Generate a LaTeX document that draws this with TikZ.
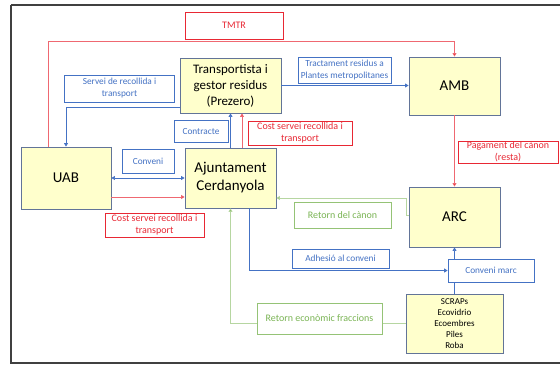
\documentclass[tikz,border=0pt]{standalone}
\usepackage{fontspec}
\setmainfont{Carlito}
\usetikzlibrary{arrows.meta}

\definecolor{boxfill}{RGB}{255,255,204}
\definecolor{boxedge}{RGB}{98,116,152}
\definecolor{lblue}{RGB}{68,114,196}
\definecolor{lred}{RGB}{232,40,52}
\definecolor{lgreen}{RGB}{122,180,84}

\begin{document}
\begin{tikzpicture}[x=1pt,y=-1pt,
    entity/.style={draw=boxedge, fill=boxfill, line width=0.9pt, align=center, inner sep=0pt},
    bluebox/.style={draw=lblue, text=lblue, fill=white, line width=0.8pt, align=center, inner sep=0pt, font=\fontsize{9.3}{12}\selectfont},
    redbox/.style={draw=lred, text=lred, fill=white, line width=0.8pt, align=center, inner sep=0pt, font=\fontsize{10}{12}\selectfont},
    greenbox/.style={draw=lgreen!80, text=lgreen, fill=white, line width=0.8pt, align=center, inner sep=0pt, font=\fontsize{10}{12}\selectfont},
    blueline/.style={-{Triangle[width=4pt,length=3.5pt,fill=lblue]}, draw=lblue, line width=0.7pt},
    redline/.style={-{Triangle[width=4pt,length=3.5pt,fill=lred]}, draw=lred!70, line width=0.7pt},
    greenline/.style={-{Triangle[width=4pt,length=3.5pt,fill=lgreen]}, draw=lgreen!55, line width=0.7pt}]
    \useasboundingbox (0,0) rectangle (560,365);
    \clip (0,0) rectangle (560,365);
    % frame (its right side lies past the page)
    \draw[line width=1.6pt, black!75] (11,5) -- (600,5) (11,5) -- (11,363) -- (600,363);

    % main actors
    \node[entity, minimum width=101, minimum height=55, font=\fontsize{13}{16}\selectfont] (transp) at (230.5,85.5) {Transportista i\\gestor residus\\(Prezero)};
    \node[entity, minimum width=91, minimum height=58, font=\fontsize{15}{18}\selectfont] (amb) at (454.5,86) {AMB};
    \node[entity, minimum width=90, minimum height=62, font=\fontsize{15}{18}\selectfont] (uab) at (66,178) {UAB};
    \node[entity, minimum width=91, minimum height=60, font=\fontsize{15}{18}\selectfont] (ajunt) at (230.5,178) {Ajuntament\\Cerdanyola};
    \node[entity, minimum width=91, minimum height=60, font=\fontsize{15}{18}\selectfont] (arc) at (454.5,217) {ARC};
    \node[entity, minimum width=97, minimum height=59, font=\fontsize{9}{11}\selectfont] (scraps) at (454.5,323.5) {SCRAPs\\Ecovidrio\\Ecoembres\\Piles\\Roba};

    % the connectors
    \draw[redline] ([xshift=-18]uab.north) -- ++(0,-105) -| (amb.north);
    \draw[blueline] ([yshift=-21.5]transp.west) -| (uab.north);
    \draw[blueline] (transp.east) -- (transp.east -| amb.west);
    \draw[blueline] (ajunt.north) -- (transp.south);
    \draw[redline] ([xshift=11.5]ajunt.north) -- ([xshift=11.5]transp.south);
    \draw[blueline, {Triangle[width=4pt,length=3.5pt,fill=lblue]}-{Triangle[width=4pt,length=3.5pt,fill=lblue]}] (uab.east) -- (ajunt.west);
    \draw[redline] ([yshift=-19]uab.east) -- ([yshift=-19]ajunt.west);
    \draw[redline] (amb.south) -- (arc.north);
    \draw[greenline] ([yshift=2]arc.west) -- ++(-2,0) |- ([yshift=-20]ajunt.east);
    \draw[greenline] (scraps.west) -| (ajunt.south);

    % the labels
    \node[redbox, minimum width=98, minimum height=27] (tmtr) at (234,25.5) {TMTR};
    \node[bluebox, minimum width=110, minimum height=27] (servei) at (119.5,88.5) {Servei de recollida i\\transport};
    \node[bluebox, minimum width=93, minimum height=26] (tract) at (344.5,70) {Tractament residus a\\Plantes metropolitanes};
    \node[bluebox, minimum width=54, minimum height=22] (contr) at (201,131.5) {Contracte};
    \node[redbox, minimum width=104, minimum height=24] (costr) at (300,133) {Cost servei recollida i\\transport};
    \node[bluebox, minimum width=52, minimum height=24] (conv) at (148,161) {Conveni};
    \node[redbox, minimum width=99, minimum height=24] (costl) at (154.5,225) {Cost servei recollida i\\transport};
    \node[redbox, minimum width=100, minimum height=22] (pag) at (508,152) {Pagament del cànon\\(resta)};
    \node[greenbox, minimum width=97, minimum height=26] (retc) at (342.5,215) {Retorn del cànon};
    \node[bluebox, minimum width=97, minimum height=19] (adh) at (340.5,258.5) {Adhesió al conveni};
    \node[bluebox, minimum width=86, minimum height=23] (cmarc) at (491,270.5) {Conveni marc};
    \node[greenbox, minimum width=125, minimum height=31] (reteco) at (319.5,318.5) {Retorn econòmic fraccions};
    \draw[blueline] ([xshift=18.5]ajunt.south) |- (cmarc.west);
    \draw[blueline] (arc.south |- cmarc.north) -- (arc.south);
    \draw[draw=lblue, line width=0.7pt] (scraps.north) -- (scraps.north |- cmarc.south);
\end{tikzpicture}
\end{document}
